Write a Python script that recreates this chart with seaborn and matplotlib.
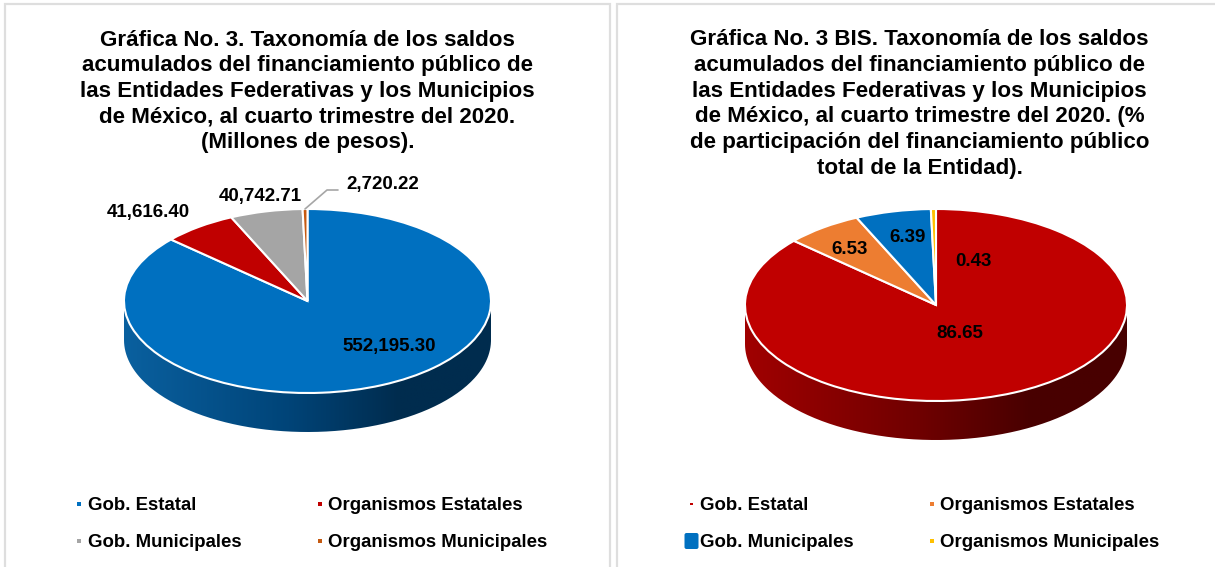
import numpy as np
import matplotlib
matplotlib.use("Agg")
import matplotlib.pyplot as plt
import seaborn as sns
from matplotlib.colors import LinearSegmentedColormap
from matplotlib.patches import PathPatch, FancyBboxPatch, Rectangle
from matplotlib.path import Path
from matplotlib.lines import Line2D

categories = ["Gob. Estatal", "Organismos Estatales", "Gob. Municipales", "Organismos Municipales"]
saldos = [552195.30, 41616.40, 40742.71, 2720.22]
saldos_labels = ["552,195.30", "41,616.40", "40,742.71", "2,720.22"]
participacion = [86.65, 6.53, 6.39, 0.43]
participacion_labels = ["86.65", "6.53", "6.39", "0.43"]
title_left = ("Gráfica No. 3. Taxonomía de los saldos\nacumulados del financiamiento público de\n"
              "las Entidades Federativas y los Municipios\nde México, al cuarto trimestre del 2020.\n"
              "(Millones de pesos).")
title_right = ("Gráfica No. 3 BIS. Taxonomía de los saldos\nacumulados del financiamiento público de\n"
               "las Entidades Federativas y los Municipios\nde México, al cuarto trimestre del 2020. (%\n"
               "de participación del financiamiento público\ntotal de la Entidad).")
colors_left = ["#0070C0", "#C00000", "#A5A5A5", "#C55A11"]
colors_right = ["#C00000", "#ED7D31", "#0070C0", "#FFC000"]
side_left = ["#0A609F", "#004478", "#002C4E", "#002C4E"]
side_right = ["#A00000", "#700000", "#480000", "#480000"]

sns.set_theme(style="white")
plt.rcParams["font.family"] = ["Liberation Sans", "DejaVu Sans"]

W, H = 1215, 567
fig = plt.figure(figsize=(W / 100, H / 100), dpi=100, facecolor="white")
bg = fig.add_axes([0, 0, 1, 1], zorder=0)
bg.set_xlim(0, W)
bg.set_ylim(H, 0)
bg.axis("off")
GRID = "#DEDEDE"
for x0, x1 in [(5, 610), (616.5, 1240)]:
    bg.add_patch(Rectangle((x0, 4), x1 - x0, H + 20, fc="white", ec=GRID, lw=1.6))

TS, LS, VS = 16.15, 13.4, 13.5


def pie3d(values, colors, side, cx, cy, rx, ry, depth):
    left = cx - rx
    bottom = H - (cy + ry + depth)
    ax = fig.add_axes([left / W, bottom / H, 2 * rx / W, (2 * ry + depth) / H], zorder=2)
    ax.pie(values, colors=colors, startangle=90, counterclock=False, radius=1,
           wedgeprops=dict(edgecolor="white", linewidth=1.5), normalize=True)
    d = 2 * depth / (2 * ry)
    ax.set_aspect("auto")
    ax.set_xlim(-1, 1)
    ax.set_ylim(-1 - d, 1)
    ax.axis("off")
    for p in ax.patches:
        p.set_clip_on(False)
        p.set_zorder(3)
    t = np.linspace(np.pi, 2 * np.pi, 200)
    verts = np.column_stack([np.cos(t), np.sin(t) - d])
    verts = np.vstack([verts, [[1, 0.02]], np.column_stack([np.cos(t[::-1]), np.sin(t[::-1])])])
    clip = PathPatch(Path(np.vstack([verts, verts[:1]])), transform=ax.transData, fc="none", ec="none")
    ax.add_patch(clip)
    cmap = LinearSegmentedColormap.from_list("side", list(zip([0, 0.45, 0.75, 1], side)))
    im = ax.imshow(np.linspace(0, 1, 256)[None, :], extent=(-1, 1, -1 - d, 0.02), cmap=cmap,
                   aspect="auto", zorder=1)
    im.set_clip_path(clip)
    ax.set_xlim(-1, 1)
    ax.set_ylim(-1 - d, 1)


def t(x, y, s, size, **kw):
    return fig.text(x / W, 1 - y / H, s, fontsize=size, fontweight="bold", color="black",
                    zorder=5, **kw)


def legend(text_x, row_y):
    for i, name in enumerate(categories):
        col, row = i % 2, i // 2
        t(text_x[col], row_y[row], name, LS, ha="left", va="center")


pie3d(saldos, colors_left, side_left, 307.5, 301, 183.5, 92, 39)
pie3d(participacion, colors_right, side_right, 936, 305, 191, 96, 39)

t(307.5, 91.5, title_left, TS, ha="center", va="center", linespacing=1.29)
t(919.5, 104, title_right, TS, ha="center", va="center", linespacing=1.29)

t(389, 346.5, saldos_labels[0], VS, ha="center", va="center")
t(148, 213, saldos_labels[1], VS, ha="center", va="center")
t(260, 196.5, saldos_labels[2], VS, ha="center", va="center")
t(382.5, 185, saldos_labels[3], VS, ha="center", va="center")
fig.add_artist(Line2D(np.array([305, 327, 338]) / W, 1 - np.array([209, 190, 190]) / H,
                      color="#A6A6A6", lw=1.2, zorder=4))

t(960, 333, participacion_labels[0], VS, ha="center", va="center")
t(850, 249.5, participacion_labels[1], VS, ha="center", va="center")
t(908, 237.5, participacion_labels[2], VS, ha="center", va="center")
t(973, 261.5, participacion_labels[3], VS, ha="center", va="center")

legend((88, 328), (505.5, 542.5))
legend((700, 940), (505.5, 542.5))

mk = fig.add_axes([0, 0, 1, 1], zorder=4)
mk.set_xlim(0, W)
mk.set_ylim(H, 0)
mk.axis("off")
for i, (x, y) in enumerate([(78.5, 504), (319.5, 504), (78.5, 541), (319.5, 541)]):
    mk.add_patch(Rectangle((x - 2, y - 2), 4, 4, fc=colors_left[i], ec="none"))
for i, (x, y, s) in enumerate([(691.5, 504, 2.5), (931.5, 504, 4), (931.5, 541, 4)]):
    c = [colors_right[0], colors_right[1], colors_right[3]][i]
    mk.add_patch(Rectangle((x - s / 2, y - s / 2), s, s, fc=c, ec="none"))
mk.add_patch(FancyBboxPatch((686, 534.5), 11, 13, boxstyle="round,pad=1.5,rounding_size=2",
                            fc=colors_right[2], ec="none"))

fig.savefig("out.png", dpi=100, facecolor="white")
